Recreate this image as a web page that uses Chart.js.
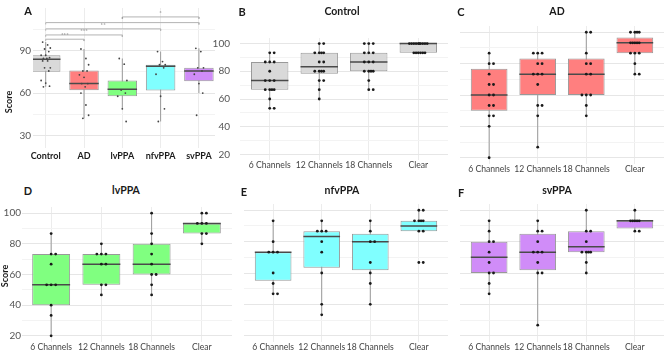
<!DOCTYPE html>
<html>
<head>
<meta charset="utf-8">
<script src="https://cdn.jsdelivr.net/npm/chart.js@4.4.1/dist/chart.umd.min.js"></script>
<style>
  body { margin: 0; background: #fff; width: 669px; height: 352px; overflow: hidden; position: relative; font-family: Lato, 'Open Sans', sans-serif; }
  canvas { position: absolute; }
  .lbl { position: absolute; font-weight: bold; color: #1a1a1a; white-space: nowrap; transform: translate(-50%, -50%); }
  .letter { font-size: 11px; }
  .title { font-size: 10.5px; }
  .ylab { font-size: 9px; transform: translate(-50%, -50%) rotate(-90deg); }
</style>
</head>
<body>
<canvas id="chartA"></canvas>
<canvas id="chartB"></canvas>
<canvas id="chartC"></canvas>
<canvas id="chartD"></canvas>
<canvas id="chartE"></canvas>
<canvas id="chartF"></canvas>

<div class="lbl letter" style="left:28px;top:10px">A</div>
<div class="lbl letter" style="left:242px;top:11px">B</div>
<div class="lbl letter" style="left:461px;top:11px">C</div>
<div class="lbl letter" style="left:28px;top:190px">D</div>
<div class="lbl letter" style="left:244px;top:191px">E</div>
<div class="lbl letter" style="left:461px;top:192px">F</div>
<div class="lbl title" style="left:342px;top:11px">Control</div>
<div class="lbl title" style="left:557px;top:11px">AD</div>
<div class="lbl title" style="left:126px;top:190px">lvPPA</div>
<div class="lbl title" style="left:342px;top:190px">nfvPPA</div>
<div class="lbl title" style="left:557px;top:190px">svPPA</div>
<div class="lbl ylab" style="left:8px;top:102px">Score</div>
<div class="lbl ylab" style="left:4px;top:276px">Score</div>

<script>
// ---- data ----
const groupLabels = ['Control', 'AD', 'lvPPA', 'nfvPPA', 'svPPA'];
const channelLabels = ['6 Channels', '12 Channels', '18 Channels', 'Clear'];
const groupColors = ['#d9d9d9', '#ff7f7f', '#80ff80', '#80ffff', '#d08cf8'];

const ticksA = [30, 60, 90];
const gridA = [30, 45, 60, 75, 90, 105];
const ticksChannels = [20, 40, 60, 80, 100];
const gridChannels = [20, 30, 40, 50, 60, 70, 80, 90, 100];

// box stats: [lower whisker, Q1, median, Q3, upper whisker]
const boxesA = [
    [64.4, 75.1, 83.8, 86.7, 96],
    [42.2, 62, 66.7, 76, 91.1],
    [48.9, 57.8, 62.7, 68.9, 84.4],
    [40, 61.8, 78.9, 80, 89.3],
    [60, 68.4, 75.6, 77.8, 91.6],
];
const pointsA = [
    [96, 94, 91.8, 91.1, 89.3, 86.7, 86.7, 85, 84.4, 84.4, 82.7, 82.7, 77.8, 77.8, 75.6, 68.9, 67.1, 64.9, 64.4],
    [91.1, 84.4, 80, 75.6, 75.6, 72.9, 71.1, 66.7, 66.7, 64.4, 60, 51.6, 44.4, 42.2],
    [84.4, 80.4, 68.9, 62.2, 60, 57.8, 48.9, 40],
    [89.3, 82.2, 80, 80, 77.8, 73.3, 57.8, 48.9, 40],
    [91.6, 89.3, 77.8, 77.8, 75.6, 73.3, 66.7, 60, 44.4],
];
// significance brackets (group numbers 1..5)
const bracketFrom = [1, 1, 1, 1, 3];
const bracketTo = [2, 3, 4, 5, 5];
const bracketY = [98, 101, 105.3, 109.7, 113.7];
const bracketText = ['***', '***', '**', '*', '*'];

const boxesControl = [
    [53.3, 66.7, 73.3, 86.7, 93.3],
    [60, 78.3, 83.3, 93.3, 100],
    [66.7, 80, 86.7, 93.3, 100],
    [93.3, 93.3, 100, 100, 100],
];
const pointsControl = [
    [93.3, 93.3, 86.7, 86.7, 86.7, 80, 73.3, 73.3, 73.3, 66.7, 66.7, 66.7, 66.7, 60, 53.3, 53.3],
    [100, 100, 93.3, 93.3, 93.3, 93.3, 86.7, 86.7, 80, 80, 80, 80, 73.3, 73.3, 66.7, 60],
    [100, 100, 100, 93.3, 93.3, 93.3, 86.7, 86.7, 86.7, 80, 80, 80, 80, 73.3, 66.7, 66.7],
    [100, 100, 100, 100, 100, 100, 100, 100, 100, 100, 93.3, 93.3, 93.3, 93.3, 93.3, 93.3],
];

const boxesAD = [
    [20, 50, 60, 76.7, 86.7],
    [26.7, 60, 73.3, 83.3, 86.7],
    [46.7, 60, 73.3, 83.3, 100],
    [73.3, 86.7, 93.3, 96.7, 100],
];
const pointsAD = [
    [86.7, 80, 80, 73.3, 66.7, 66.7, 60, 60, 53.3, 53.3, 46.7, 46.7, 40, 20],
    [86.7, 86.7, 86.7, 80, 80, 73.3, 73.3, 73.3, 66.7, 53.3, 53.3, 46.7, 26.7],
    [100, 100, 86.7, 80, 80, 73.3, 73.3, 60, 60, 60, 53.3, 46.7],
    [100, 100, 100, 100, 93.3, 93.3, 93.3, 93.3, 93.3, 86.7, 86.7, 86.7, 80, 73.3, 73.3],
];

const boxesLv = [
    [20, 40, 53.3, 73.3, 86.7],
    [46.7, 53.3, 66.7, 73.3, 80],
    [46.7, 60, 66.7, 80, 100],
    [80, 86.7, 93.3, 93.3, 100],
];
const pointsLv = [
    [86.7, 73.3, 73.3, 66.7, 53.3, 53.3, 53.3, 40, 33.3, 20],
    [80, 73.3, 73.3, 73.3, 66.7, 66.7, 53.3, 53.3, 46.7],
    [100, 86.7, 80, 73.3, 66.7, 60, 60, 53.3, 46.7],
    [100, 100, 93.3, 93.3, 93.3, 86.7, 86.7, 80],
];

const boxesNfv = [
    [46.7, 55, 73.3, 73.3, 93.3],
    [33.3, 63.3, 83.3, 86.7, 93.3],
    [40, 61.7, 80, 85, 93.3],
    [86.7, 86.7, 90, 93.3, 100],
];
const pointsNfv = [
    [93.3, 80, 73.3, 73.3, 73.3, 60, 53.3, 46.7, 46.7],
    [93.3, 86.7, 86.7, 86.7, 80, 73.3, 60, 40, 33.3],
    [93.3, 86.7, 80, 80, 66.7, 60, 53.3, 40],
    [100, 100, 93.3, 93.3, 93.3, 93.3, 86.7, 86.7, 66.7, 66.7],
];

const boxesSv = [
    [46.7, 60, 70, 80, 93.3],
    [26.7, 61.7, 73.3, 85, 93.3],
    [60, 73.3, 76.7, 86.7, 100],
    [86.7, 88.3, 93.3, 93.3, 100],
];
const pointsSv = [
    [93.3, 86.7, 80, 80, 73.3, 66.7, 60, 60, 53.3, 46.7],
    [93.3, 86.7, 86.7, 80, 73.3, 73.3, 73.3, 66.7, 60, 60, 26.7],
    [100, 86.7, 86.7, 80, 73.3, 73.3, 73.3, 73.3, 66.7, 60],
    [100, 93.3, 93.3, 93.3, 93.3, 93.3, 86.7, 86.7],
];

// ---- helpers ----
const repeatShift = [0, 0.09, -0.09, 0.045, -0.045, 0.135, -0.135, 0.18, -0.18, 0.02, -0.11];
const indexShift = [-0.08, 0.05, 0.12, -0.03, 0.08, -0.12, 0, 0.1, -0.06, 0.03];

function jitter(groups, byIndex) {
    const out = [];
    groups.forEach((vals, i) => {
        const seen = {};
        vals.forEach((v, j) => {
            seen[v] = (seen[v] || 0) + 1;
            const dx = byIndex ? indexShift[j % indexShift.length] : repeatShift[(seen[v] - 1) % repeatShift.length];
            out.push({ x: i + 1 + dx, y: v });
        });
    });
    return out;
}

// bracket star labels for panel A
const bracketLabels = {
    id: 'bracketLabels',
    afterDatasetsDraw(chart) {
        const { ctx, scales: { x, y } } = chart;
        ctx.save();
        ctx.fillStyle = '#777';
        ctx.font = '6px Lato, sans-serif';
        ctx.textAlign = 'center';
        ctx.textBaseline = 'middle';
        bracketText.forEach((t, i) => {
            const mx = x.getPixelForValue((bracketFrom[i] + bracketTo[i]) / 2);
            ctx.fillText(t, mx, y.getPixelForValue(bracketY[i]) - 4);
        });
        ctx.restore();
    },
};

function buildPanel(id, area, boxes, points, fill, o) {
    const canvas = document.getElementById(id);
    canvas.style.left = (area.l - o.yWidth) + 'px';
    canvas.style.top = area.t + 'px';
    canvas.width = area.r - area.l + o.yWidth;
    canvas.height = area.b - area.t + o.xHeight;

    const half = o.boxPct / 2;
    const whiskers = [], medians = [];
    boxes.forEach((b, i) => {
        const c = i + 1;
        whiskers.push({ x: c, y: b[0] }, { x: c, y: b[4] }, { x: c, y: null });
        medians.push({ x: c - half, y: b[2] }, { x: c + half, y: b[2] }, { x: c, y: null });
    });

    const datasets = [
        {
            type: 'line', data: whiskers, borderColor: '#9a9a9a', borderWidth: 1,
            pointRadius: 0, spanGaps: false, order: 4,
        },
        {
            type: 'bar', data: boxes.map((b, i) => ({ x: i + 1, y: [b[1], b[3]] })),
            backgroundColor: fill, borderColor: '#999', borderWidth: 1, borderSkipped: false,
            barPercentage: 1, categoryPercentage: o.boxPct, order: 3,
        },
        {
            type: 'line', data: medians, borderColor: '#4a4a4a', borderWidth: 1.5,
            pointRadius: 0, spanGaps: false, order: 2,
        },
        {
            type: 'scatter', data: jitter(points, o.jitterByIndex), pointRadius: o.pointRadius,
            pointBackgroundColor: o.pointColor, pointBorderWidth: 0, order: 1,
        },
    ];

    if (o.brackets) {
        const drop = 1.3;
        const lines = [];
        bracketFrom.forEach((f, i) => {
            const t = bracketTo[i], yv = bracketY[i];
            lines.push({ x: f, y: yv - drop }, { x: f, y: yv }, { x: t, y: yv }, { x: t, y: yv - drop }, { x: t, y: null });
        });
        datasets.push({
            type: 'line', data: lines, borderColor: '#b3b3b3', borderWidth: 1,
            pointRadius: 0, spanGaps: false, order: 5,
        });
    }

    new Chart(canvas, {
        type: 'bar',
        data: { datasets },
        options: {
            responsive: false,
            animation: false,
            layout: { padding: 0 },
            plugins: { legend: { display: false }, tooltip: { enabled: false }, title: { display: false } },
            scales: {
                x: {
                    type: 'linear', min: o.xMin, max: o.xMax, offset: false,
                    afterBuildTicks: (s) => { s.ticks = o.xLabels.map((_, i) => ({ value: i + 1 })); },
                    afterFit: (s) => { s.height = o.xHeight; },
                    grid: { color: '#ececec', offset: false, drawTicks: false },
                    border: { display: false },
                    ticks: {
                        callback: (v) => o.xLabels[v - 1],
                        autoSkip: false, maxRotation: 0, padding: o.xPad,
                        color: o.xColor, font: { family: 'Lato', size: o.xSize, weight: o.xBold ? 'bold' : 'normal' },
                    },
                },
                y: {
                    min: o.yMin, max: o.yMax,
                    afterBuildTicks: (s) => { s.ticks = o.grid.map((v) => ({ value: v })); },
                    afterFit: (s) => { s.width = o.yWidth; },
                    grid: {
                        drawTicks: false,
                        color: (ctx) => (o.ticks.includes(ctx.tick.value) ? '#e6e6e6' : '#f3f3f3'),
                    },
                    border: { display: false },
                    ticks: {
                        display: o.yWidth > 0,
                        callback: (v) => (o.ticks.includes(v) ? v : ''),
                        padding: o.yPad, color: '#555', font: { family: 'Lato', size: 10 },
                    },
                },
            },
        },
        plugins: o.brackets ? [bracketLabels] : [],
    });
}

const channelOpts = {
    xLabels: channelLabels, xMin: 0.4, xMax: 4.6, yMin: 16, yMax: 104,
    ticks: ticksChannels, grid: gridChannels, boxPct: 0.755, xSize: 8.6,
    pointRadius: 1.4, pointColor: '#1a1a1a', xColor: '#444', xPad: 0, xBold: false,
};

buildPanel('chartA', { l: 33, t: 0, r: 219, b: 148 }, boxesA, pointsA, groupColors, {
    xLabels: groupLabels, xMin: 0.668, xMax: 5.42, yMin: 21.3, yMax: 120, xSize: 9,
    ticks: ticksA, grid: gridA, boxPct: 0.77, yWidth: 33, yPad: 2, xHeight: 16, xPad: 3,
    pointRadius: 0.9, pointColor: '#444', xColor: '#1a1a1a', xBold: true, jitterByIndex: true, brackets: true,
});
buildPanel('chartB', { l: 240, t: 22, r: 452, b: 164 }, boxesControl, pointsControl, groupColors[0],
    { ...channelOpts, yWidth: 30, yPad: 10, xHeight: 12 });
buildPanel('chartC', { l: 456, t: 22, r: 668, b: 164 }, boxesAD, pointsAD, groupColors[1],
    { ...channelOpts, yWidth: 0, yPad: 0, xHeight: 12 });
buildPanel('chartD', { l: 22, t: 200, r: 236, b: 342 }, boxesLv, pointsLv, groupColors[2],
    { ...channelOpts, xMin: 0.42, yWidth: 22, yPad: 1, xHeight: 10 });
buildPanel('chartE', { l: 240, t: 200, r: 452, b: 342 }, boxesNfv, pointsNfv, groupColors[3],
    { ...channelOpts, yWidth: 0, yPad: 0, xHeight: 10 });
buildPanel('chartF', { l: 456, t: 200, r: 668, b: 342 }, boxesSv, pointsSv, groupColors[4],
    { ...channelOpts, yWidth: 0, yPad: 0, xHeight: 10 });
</script>
</body>
</html>
